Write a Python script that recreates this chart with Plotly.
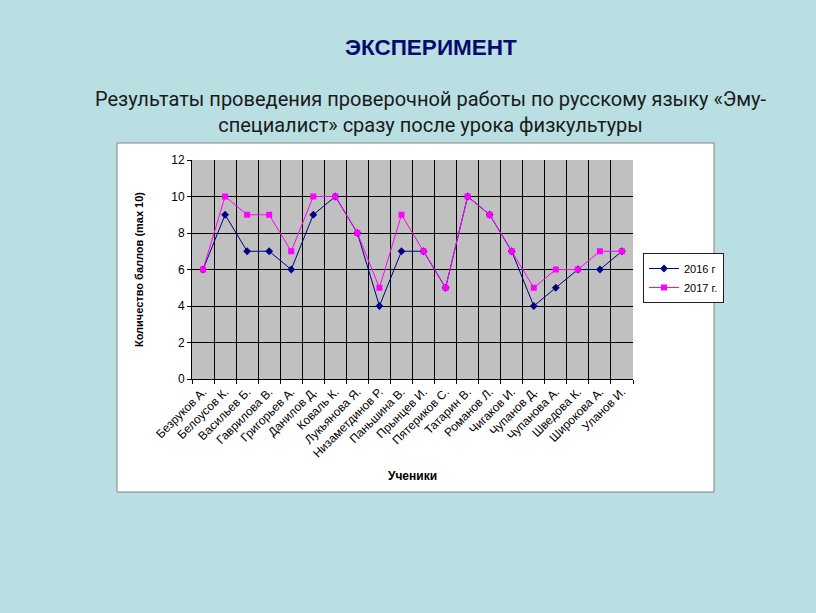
import plotly.graph_objects as go

students = ["Безруков А.", "Белоусов К.", "Васильев Б.", "Гаврилова В.", "Григорьев А.",
            "Данилов Д.", "Коваль К.", "Лукьянова Я.", "Низаметдинов Р.", "Паньшина В.",
            "Прынцев И.", "Пятериков С.", "Татарин В.", "Романов Л.", "Чигаков И.",
            "Чупанов Д.", "Чупанова А.", "Шведова К.", "Широкова А.", "Уланов И."]
scores_2016 = [6, 9, 7, 7, 6, 9, 10, 8, 4, 7, 7, 5, 10, 9, 7, 4, 5, 6, 6, 7]
scores_2017 = [6, 10, 9, 9, 7, 10, 10, 8, 5, 9, 7, 5, 10, 9, 7, 5, 6, 6, 7, 7]
y_ticks = [0, 2, 4, 6, 8, 10, 12]

W, H = 816, 613
fig = go.Figure()
fig.add_trace(go.Scatter(x=students, y=scores_2016, name="2016 г", mode="lines+markers",
                         line=dict(color="#000080", width=1),
                         marker=dict(symbol="diamond", size=6, color="#000080")))
fig.add_trace(go.Scatter(x=students, y=scores_2017, name="2017 г.", mode="lines+markers",
                         line=dict(color="#FF00FF", width=1),
                         marker=dict(symbol="square", size=6, color="#FF00FF")))

x0, x1 = 192 / W, 633 / W
y0, y1 = 1 - 379 / H, 1 - 160 / H

fig.update_layout(
    width=W, height=H, margin=dict(l=0, r=0, t=0, b=0, autoexpand=False),
    paper_bgcolor="#B9DFE3", plot_bgcolor="#C0C0C0",
    font=dict(family="Liberation Sans, Arial", color="black"),
    showlegend=True,
    legend=dict(x=643 / W, y=1 - 253 / H, xanchor="left", yanchor="top",
                bgcolor="white", bordercolor="#202020", borderwidth=1,
                font=dict(size=11), tracegroupgap=0, itemwidth=30),
    xaxis=dict(domain=[x0, x1], type="category", range=[-0.5, len(students) - 0.5],
               tickson="boundaries", showgrid=True, gridcolor="black", gridwidth=1,
               ticks="outside", ticklen=4, tickcolor="black",
               tickangle=-45, tickfont=dict(size=12),
               showline=True, linecolor="black", linewidth=1, automargin=False,
               title=dict(text="<b>Ученики</b>", font=dict(size=12), standoff=12),
               anchor="y"),
    yaxis=dict(domain=[y0, y1], range=[0, 12], tickvals=y_ticks,
               showgrid=True, gridcolor="black", gridwidth=1,
               ticks="outside", ticklen=4, tickcolor="black",
               tickfont=dict(size=12), showline=True, linecolor="black", linewidth=1,
               zeroline=False, automargin=False,
               title=dict(text="<b>Количество баллов (max 10)</b>", font=dict(size=11), standoff=25),
               anchor="x"),
    shapes=[dict(type="rect", xref="paper", yref="paper", layer="below",
                 x0=117 / W, x1=714 / W, y0=1 - 492 / H, y1=1 - 143 / H,
                 fillcolor="white", line=dict(color="#808080", width=1)),
            dict(type="rect", xref="x domain", yref="y domain", layer="below",
                 x0=0, x1=1, y0=0, y1=1, fillcolor="#C0C0C0", line=dict(width=0))],
    annotations=[
        dict(text="<b>ЭКСПЕРИМЕНТ</b>", xref="paper", yref="paper",
             x=431 / W, y=1 - 48 / H, showarrow=False, xanchor="center", yanchor="middle",
             font=dict(size=22.5, color="#0A0A6E", family="Liberation Sans, Arial")),
        dict(text="Результаты проведения проверочной работы по русскому языку «Эму-<br>специалист» сразу после урока физкультуры",
             xref="paper", yref="paper", x=431 / W, y=1 - 112 / H, showarrow=False,
             xanchor="center", yanchor="middle", align="center",
             font=dict(size=20, color="#1A1A1A", family="Liberation Sans Narrow, Roboto")),
    ],
)
fig.write_html("out.html")
